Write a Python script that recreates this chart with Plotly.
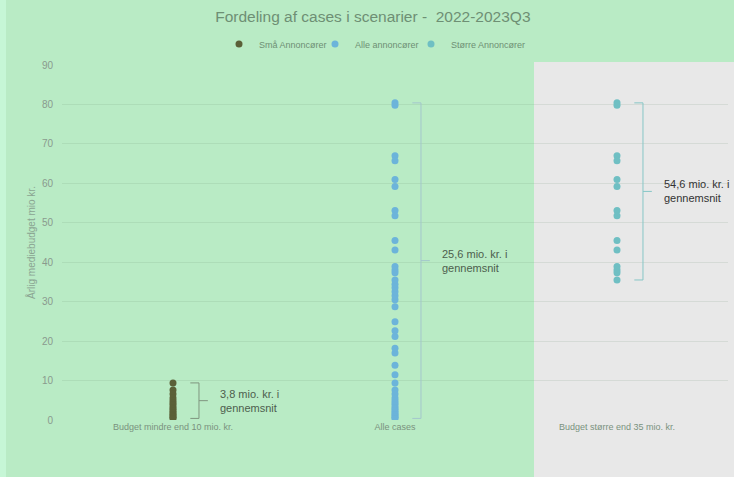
import plotly.graph_objects as go

# ---- data ----
categories = ["Budget mindre end 10 mio. kr.", "Alle cases", "Budget større end 35 mio. kr."]
small_values = [9.4, 7.6, 6.6, 5.6, 4.9, 4.3, 3.8, 3.2, 2.7, 2.2, 1.8, 1.4, 1.0, 0.7, 0.4]
medium_values = [11.5, 13.9, 17.0, 18.2, 21.2, 22.6, 24.9, 28.7, 30.5, 31.5, 32.5, 33.5, 34.4]
large_values = [80.4, 79.8, 67.0, 65.7, 61.0, 59.2, 53.1, 51.8, 45.5, 43.1, 38.9, 38.0, 37.3, 35.5]
all_values = small_values + medium_values + large_values
series_names = ["Små Annoncører", "Alle annoncører", "Større Annoncører"]
avg_labels = ["3,8 mio. kr. i<br>gennemsnit", "25,6 mio. kr. i<br>gennemsnit", "54,6 mio. kr. i<br>gennemsnit"]
y_ticks = [0, 10, 20, 30, 40, 50, 60, 70, 80, 90]

colors = ["#5b6038", "#6cb4da", "#6fbfc3"]
bracket_colors = ["#7f957f", "#a3c6cc", "#86c6c6"]
text_colors = ["#4d5e4d", "#4d5e4d", "#333333"]
font = "Liberation Sans, Arial, sans-serif"

fig = go.Figure()
groups = [small_values, all_values, large_values]
for i, vals in enumerate(groups):
    fig.add_trace(go.Scatter(
        x=[i] * len(vals), y=vals, mode="markers", name=series_names[i],
        marker=dict(color=colors[i], size=7),
    ))
# empty spacer entry so the last legend label is not clipped
fig.add_trace(go.Scatter(x=[None], y=[None], mode="markers", name=" ", hoverinfo="skip",
                         marker=dict(color="rgba(0,0,0,0)", size=1)))

# brackets + average labels
for i, vals in enumerate(groups):
    lo, hi = min(vals), max(vals)
    xv = i + 0.117
    xl = i + 0.078
    xm = i + 0.157
    mid = (lo + hi) / 2
    c = bracket_colors[i]
    for x0, y0, x1, y1 in [(xl, hi, xv, hi), (xv, hi, xv, lo), (xl, lo, xv, lo), (xv, mid, xm, mid)]:
        fig.add_shape(type="line", x0=x0, y0=y0, x1=x1, y1=y1, xref="x", yref="y",
                      line=dict(color=c, width=1))
    fig.add_annotation(x=xm + 0.045, y=mid, xref="x", yref="y", text=avg_labels[i],
                       showarrow=False, xanchor="left", yanchor="middle", align="left",
                       font=dict(family=font, size=11, color=text_colors[i]))

# background regions
fig.add_shape(type="rect", xref="paper", yref="paper", x0=(534 - 62) / 666, x1=1 + 6 / 666,
              y0=-57 / 355, y1=(420 - 62) / 355, fillcolor="#e8e8e8", line_width=0, layer="below")
fig.add_shape(type="rect", xref="paper", yref="paper", x0=-62 / 666, x1=-56 / 666,
              y0=-57 / 355, y1=1 + 65 / 355, fillcolor="#c6f6d6", line_width=0, layer="below")

fig.update_layout(
    width=734, height=477,
    margin=dict(l=62, r=6, t=65, b=57),
    paper_bgcolor="#b9ebc5", plot_bgcolor="rgba(0,0,0,0)",
    font=dict(family=font, color="#7a8f7e"),
    title=dict(text="Fordeling af cases i scenarier -  2022-2023Q3", x=0.508, xanchor="center",
               y=1 - 17 / 477, yanchor="middle", font=dict(size=15.5, color="#6e8f74")),
    legend=dict(orientation="h", x=(219 - 62) / 666, xanchor="left", y=1 + 21 / 355, yanchor="middle",
                font=dict(size=9, color="#6e8f74"), itemwidth=30, bgcolor="rgba(0,0,0,0)",
                entrywidth=51, entrywidthmode="pixels", tracegroupgap=0),
    showlegend=True,
)
fig.update_xaxes(range=[-0.5, 2.5], tickvals=[0, 1, 2], ticktext=categories, showgrid=False,
                 zeroline=False, showline=False, tickfont=dict(size=9, color="#7a927e"), ticks="")
fig.update_yaxes(range=[0, 90], tickvals=y_ticks, showgrid=True, gridcolor="rgba(110,140,115,0.15)",
                 zeroline=False, showline=False, tickfont=dict(size=10, color="#8a9a8e"),
                 ticks="", ticklabelstandoff=8,
                 title=dict(text="Årlig mediebudget mio kr.", font=dict(size=10, color="#8aa592"), standoff=4))

fig.write_html("out.html")
